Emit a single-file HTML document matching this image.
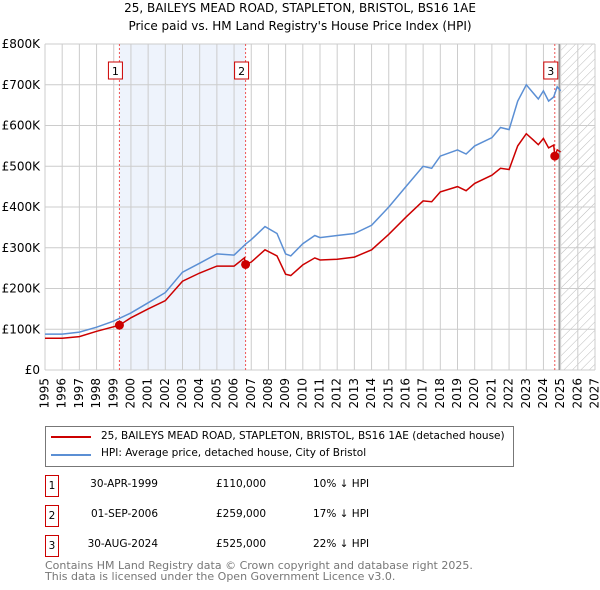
<!DOCTYPE html>
<html><head><meta charset="utf-8"><style>
body{margin:0;background:#fff;font-family:"DejaVu Sans","Liberation Sans",sans-serif;}
#wrap{position:relative;width:600px;height:590px;overflow:hidden;}
.t{position:absolute;font-size:12px;color:#000;white-space:nowrap;}
svg text{font-family:"DejaVu Sans","Liberation Sans",sans-serif;}
</style></head><body><div id="wrap">
<div class="t" style="left:0;width:600px;text-align:center;top:1px;font-size:12px">25, BAILEYS MEAD ROAD, STAPLETON, BRISTOL, BS16 1AE</div>
<div class="t" style="left:0;width:600px;text-align:center;top:19px;font-size:12px">Price paid vs. HM Land Registry's House Price Index (HPI)</div>
<svg id="chart" width="600" height="420" style="position:absolute;left:0;top:0"></svg>
<div style="position:absolute;left:45px;top:426px;width:469px;height:41px;border:1px solid #777;box-sizing:border-box">
<div style="position:absolute;left:5px;top:9px;width:40px;height:2px;background:#cc0000"></div>
<div class="t" style="left:55px;top:3px;font-size:10.5px">25, BAILEYS MEAD ROAD, STAPLETON, BRISTOL, BS16 1AE (detached house)</div>
<div style="position:absolute;left:5px;top:27px;width:40px;height:2px;background:#5b8fd4"></div>
<div class="t" style="left:55px;top:20px;font-size:10.5px">HPI: Average price, detached house, City of Bristol</div>
</div>
<div id="tbl"></div>
<div class="t" style="left:45px;top:561px;color:#777;font-size:11px;line-height:10.5px">Contains HM Land Registry data © Crown copyright and database right 2025.<br>This data is licensed under the Open Government Licence v3.0.</div>
</div>
<script>
const hpiYears=[1995,1996,1997,1998,1999,2000,2001,2002,2003,2004,2005,2006,2006.7,2007,2007.8,2008.5,2009,2009.3,2010,2010.7,2011,2012,2013,2014,2015,2016,2017,2017.5,2018,2019,2019.5,2020,2021,2021.5,2022,2022.5,2023,2023.4,2023.7,2024,2024.3,2024.6,2024.8,2025];
const hpiValues=[88,88,93,105,120,140,165,190,240,262,285,282,310,320,352,335,285,280,310,330,325,330,335,355,400,450,500,495,525,540,530,550,570,595,590,660,700,680,665,685,660,670,695,685];
const propYears=[1995,1996,1997,1998,1999.33,2000,2001,2002,2003,2004,2005,2006,2006.6,2006.67,2007,2007.8,2008.5,2009,2009.3,2010,2010.7,2011,2012,2013,2014,2015,2016,2017,2017.5,2018,2019,2019.5,2020,2021,2021.5,2022,2022.5,2023,2023.4,2023.7,2024,2024.3,2024.6,2024.66,2024.8,2025];
const propValues=[78,78,82,95,110,128,150,170,218,238,255,255,275,259,265,295,280,235,232,258,275,270,272,277,295,333,375,415,413,437,450,440,458,478,495,492,550,580,565,553,568,545,552,525,540,535];
const saleYears=[1999.33,2006.67,2024.66];
const saleValues=[110,259,525];
const saleLabels=["1","2","3"];
const saleDates=["30-APR-1999","01-SEP-2006","30-AUG-2024"];
const salePrices=["£110,000","£259,000","£525,000"];
const saleDiffs=["10% ↓ HPI","17% ↓ HPI","22% ↓ HPI"];
const yTicks=[0,100,200,300,400,500,600,700,800];
const yTickLabels=["£0","£100K","£200K","£300K","£400K","£500K","£600K","£700K","£800K"];
const X0=45,X1=595,Y0=370,Y1=44;
const x=y=>X0+(y-1995)/32*(X1-X0);
const yy=v=>Y0-v/800*(Y0-Y1);
const svg=document.getElementById('chart');const NS='http://www.w3.org/2000/svg';
function mk(t,a,p){const e=document.createElementNS(NS,t);for(const k in a)e.setAttribute(k,a[k]);(p||svg).appendChild(e);return e;}
let defs=mk('defs',{});
let pat=mk('pattern',{id:'hatch',width:6,height:6,patternUnits:'userSpaceOnUse',patternTransform:'rotate(45)'},defs);
mk('line',{x1:0,y1:0,x2:0,y2:6,stroke:'#bbb','stroke-width':1},pat);
let r=mk('rect',{x:x(saleYears[0]),y:Y1,width:x(saleYears[1])-x(saleYears[0]),height:Y0-Y1,fill:'#eef3fc'});

let h=mk('rect',{x:x(2025),y:Y1,width:X1-x(2025),height:Y0-Y1,fill:'url(#hatch)'});

for(let yr=1995;yr<=2027;yr++){let l=mk('line',{x1:x(yr),x2:x(yr),y1:Y1,y2:Y0,stroke:'#ccc'});
let t=mk('text',{x:x(yr),y:378,'font-size':12,'text-anchor':'end',transform:`rotate(-90 ${x(yr)} 378)`,'dominant-baseline':'middle'});t.textContent=yr;}
yTicks.forEach((v,i)=>{let l=mk('line',{x1:X0,x2:X1,y1:yy(v),y2:yy(v),stroke:'#ccc'});
let t=mk('text',{x:40,y:yy(v)+4,'font-size':12,'text-anchor':'end'});t.textContent=yTickLabels[i];});
let g=mk('line',{x1:x(2024.92),x2:x(2024.92),y1:Y1,y2:Y0,stroke:'#999','stroke-width':1.5});
saleYears.forEach((s,i)=>{let l=mk('line',{x1:x(s),x2:x(s),y1:Y1,y2:Y0,stroke:'#e55','stroke-dasharray':'2,2'});});
function path(xs,vs,c,n){let d=xs.map((a,i)=>(i?'L':'M')+x(a).toFixed(1)+','+yy(vs[i]).toFixed(1)).join('');let p=mk('path',{d,fill:'none',stroke:c,'stroke-width':1.5});}
path(hpiYears,hpiValues,'#5b8fd4','hpi-line');
path(propYears,propValues,'#cc0000','property-line');
saleYears.forEach((s,i)=>{let c=mk('circle',{cx:x(s),cy:yy(saleValues[i]),r:4.5,fill:'#cc0000'});
let bx=x(s)-11;let b=mk('rect',{x:bx,y:62,width:14,height:17,fill:'#fff',stroke:'#cc0000'});
let t=mk('text',{x:bx+7,y:75,'font-size':11,'text-anchor':'middle'});t.textContent=saleLabels[i];});
const tbl=document.getElementById('tbl');
saleLabels.forEach((lab,i)=>{const top=478+i*30;
const add=(txt,l,extra,n)=>{const d=document.createElement('div');d.className='t';d.style.fontSize='10.5px';d.style.left=l+'px';d.style.top=top+'px';d.style.cssText+=extra||'';d.textContent=txt;tbl.appendChild(d);};
add(lab,45,'border:1px solid #cc0000;width:12px;height:20px;line-height:20px;text-align:center;top:'+(top-3)+'px','sale-row-number');
add(saleDates[i],77,'width:81px;text-align:right;','sale-row-date');
add(salePrices[i],216,'','sale-row-price');
add(saleDiffs[i],313,'','sale-row-diff');});
</script></body></html>
